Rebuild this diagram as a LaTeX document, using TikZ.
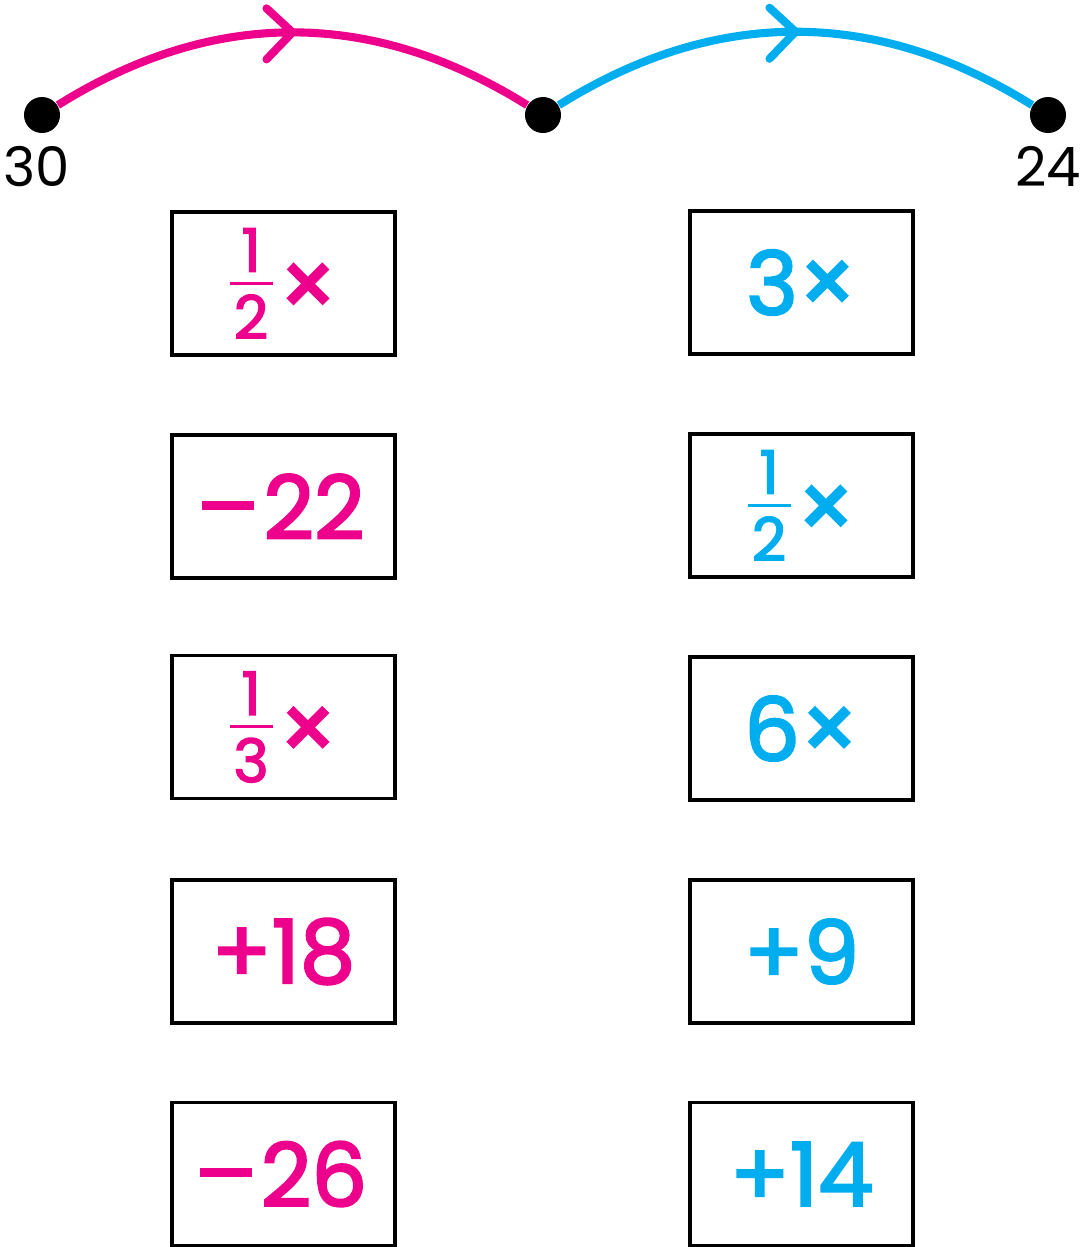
\documentclass[tikz,border=0pt]{standalone}
\usepackage{fontspec}
\setmainfont{Poppins}
\newfontfamily\opfont{Poppins}[FakeBold=2.5]
\usetikzlibrary{positioning,decorations.markings}
\definecolor{hotpink}{RGB}{236,0,140}
\definecolor{skyblue}{RGB}{0,174,239}
\newcommand\frc[2]{\raisebox{1.2mm}{$\vcenter{\offinterlineskip\fontsize{17}{19}\selectfont
  \hbox to 4.3mm{\hss#1\hss}\kern1mm\hrule height 0.9pt\kern1mm\hbox to 4.3mm{\hss#2\hss}}$}\kern0.6mm}
\newcommand\X{{\fontsize{26}{26}\selectfont ×}}
\newcommand\M{\rule[2.9mm]{5.2mm}{0.9mm}\kern0.9mm}
\tikzset{
  dot/.style={circle,fill=black,minimum size=3.6mm,inner sep=0pt},
  numlab/.style={font=\fontsize{15.5}{18}\selectfont,inner sep=0pt},
  hop/.style={line width=2.3pt,draw=#1,postaction={decorate},
    decoration={markings,mark=at position 0.5 with {
      \draw[#1,line width=2.3pt,line cap=round] (-2.6mm,2.4mm) -- (0,0) -- (-2.6mm,-2.7mm);}}},
  opbox/.style={draw=black,line width=1.1pt,minimum width=22.3mm,minimum height=14.3mm,
    inner sep=1pt,font=\opfont\fontsize{25}{30}\selectfont,text=#1},
}

\begin{document}
\begin{tikzpicture}[x=0.01cm,y=-0.01cm]
  \useasboundingbox (0,0) rectangle (1087,1247);
  % number line
  \node[dot] (d30) at (42,115) {};
  \node[dot] (dmid) at (543,115) {};
  \node[dot] (d24) at (1048,115) {};
  \draw[hop=hotpink] (d30) to[bend left=32] (dmid);
  \draw[hop=skyblue] (dmid) to[bend left=32] (d24);
  \node[numlab,below=1.2mm of d30,xshift=-0.5mm] (l30) {30};
  \node[numlab,below=1.2mm of d24] (l24) {24};
  % operations
  \foreach \t/\y [count=\i] in {\frc{1}{2}\X/283.5,\M22/506.5,\frc{1}{3}\X/727,+18/951.5,\M26/1174}
    \node[opbox=hotpink] (a\i) at (283.5,\y) {\t};
  \foreach \t/\y [count=\i] in {3\X/282.5,\frc{1}{2}\X/505.5,6\X/728.5,+9/951.5,+14/1174}
    \node[opbox=skyblue] (b\i) at (801.5,\y) {\t};
\end{tikzpicture}
\end{document}
